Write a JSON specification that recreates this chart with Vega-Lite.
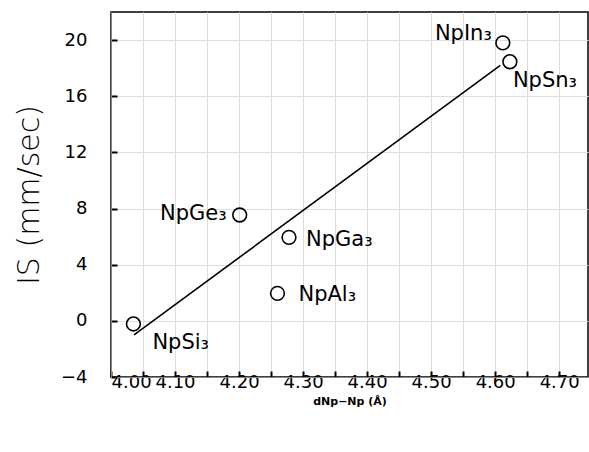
{
  "$schema": "https://vega.github.io/schema/vega-lite/v6.json",
  "autosize": "none",
  "padding": {"left": 111, "top": 12, "right": 1, "bottom": 75},
  "width": 477,
  "height": 365,
  "background": "white",
  "config": {
    "view": {"stroke": "black", "strokeWidth": 1.5},
    "font": "DejaVu Sans"
  },
  "datasets": {
    "pts": [
      {"compound": "NpIn₃", "d": 4.612, "IS": 19.8},
      {"compound": "NpSn₃", "d": 4.623, "IS": 18.46},
      {"compound": "NpGe₃", "d": 4.201, "IS": 7.54},
      {"compound": "NpGa₃", "d": 4.278, "IS": 5.95},
      {"compound": "NpAl₃", "d": 4.26, "IS": 1.96},
      {"compound": "NpSi₃", "d": 4.035, "IS": -0.22}
    ],
    "fit": [
      {"d": 4.036, "IS": -1.0},
      {"d": 4.608, "IS": 18.2}
    ]
  },
  "encoding": {
    "x": {
      "field": "d", "type": "quantitative",
      "scale": {"domain": [4.0, 4.745], "nice": false, "zero": false},
      "axis": {
        "values": [4.0, 4.05, 4.1, 4.15, 4.2, 4.25, 4.3, 4.35, 4.4, 4.45, 4.5, 4.55, 4.6, 4.65, 4.7],
        "tickSize": -6, "tickColor": "black", "tickWidth": 2,
        "labelFontSize": 18,
        "title": "dNp−Np (Å)"
      }
    },
    "y": {
      "field": "IS", "type": "quantitative",
      "scale": {"domain": [-4, 22], "nice": false, "zero": false},
      "axis": {
        "values": [-4, 0, 4, 8, 12, 16, 20],
        "tickSize": -6, "tickColor": "black", "tickWidth": 2,
        "labelFontSize": 18, "labelColor": "black", "labelPadding": 30,
        "title": "IS (mm/sec)",
        "titleFontSize": 30, "titleFontWeight": 300, "titleColor": "black",
        "titlePadding": 16
      }
    }
  },
  "layer": [
    {
      "data": {"name": "pts"},
      "mark": {"type": "point", "shape": "circle", "filled": false, "size": 190, "stroke": "black", "strokeWidth": 1.6, "opacity": 1}
    },
    {
      "data": {"name": "fit"},
      "mark": {"type": "line", "color": "black", "strokeWidth": 1.6}
    },
    {
      "data": {"name": "pts"},
      "transform": [{"filter": "datum.compound == 'NpIn₃'"}],
      "mark": {"type": "text", "align": "right", "baseline": "middle", "dx": -11, "dy": -9, "fontSize": 21, "color": "black"},
      "encoding": {"text": {"field": "compound"}}
    },
    {
      "data": {"name": "pts"},
      "transform": [{"filter": "datum.compound == 'NpSn₃'"}],
      "mark": {"type": "text", "align": "left", "baseline": "middle", "dx": 3, "dy": 19, "fontSize": 21, "color": "black"},
      "encoding": {"text": {"field": "compound"}}
    },
    {
      "data": {"name": "pts"},
      "transform": [{"filter": "datum.compound == 'NpGe₃'"}],
      "mark": {"type": "text", "align": "right", "baseline": "middle", "dx": -13, "dy": -1, "fontSize": 21, "color": "black"},
      "encoding": {"text": {"field": "compound"}}
    },
    {
      "data": {"name": "pts"},
      "transform": [{"filter": "datum.compound == 'NpGa₃'"}],
      "mark": {"type": "text", "align": "left", "baseline": "middle", "dx": 17, "dy": 3, "fontSize": 21, "color": "black"},
      "encoding": {"text": {"field": "compound"}}
    },
    {
      "data": {"name": "pts"},
      "transform": [{"filter": "datum.compound == 'NpAl₃'"}],
      "mark": {"type": "text", "align": "left", "baseline": "middle", "dx": 21, "dy": 2, "fontSize": 21, "color": "black"},
      "encoding": {"text": {"field": "compound"}}
    },
    {
      "data": {"name": "pts"},
      "transform": [{"filter": "datum.compound == 'NpSi₃'"}],
      "mark": {"type": "text", "align": "left", "baseline": "middle", "dx": 19, "dy": 19, "fontSize": 21, "color": "black"},
      "encoding": {"text": {"field": "compound"}}
    }
  ]
}
